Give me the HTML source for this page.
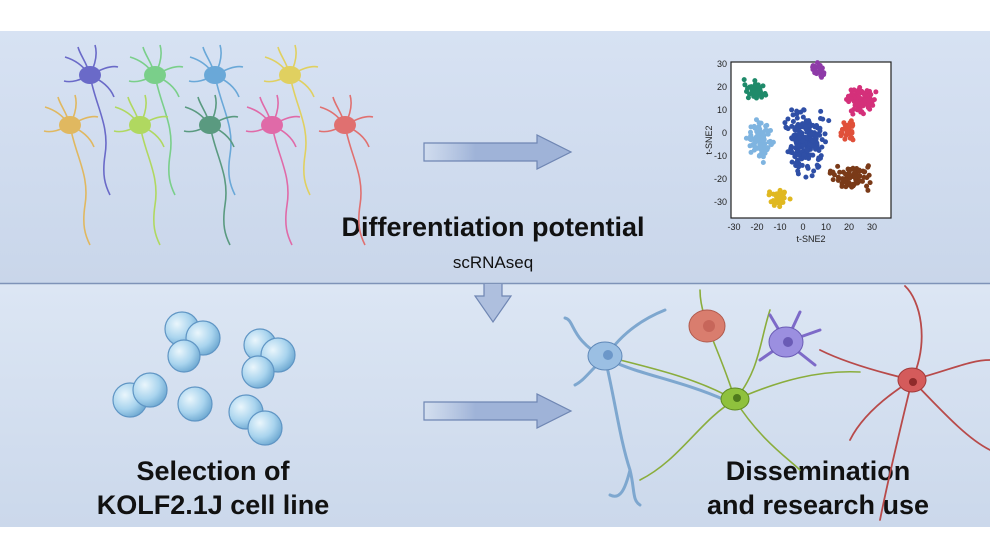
<!DOCTYPE html>
<html><head><meta charset="utf-8"><style>
html,body{margin:0;padding:0;background:#fff;}
svg{display:block;font-family:"Liberation Sans",Arial,sans-serif;}
</style></head><body>
<svg id="s" width="990" height="558" viewBox="0 0 990 558" xmlns="http://www.w3.org/2000/svg">
<defs>
<linearGradient id="bg1" x1="0" y1="0" x2="0" y2="1"><stop offset="0" stop-color="#d7e2f3"/><stop offset="1" stop-color="#c9d6ea"/></linearGradient>
<linearGradient id="bg2" x1="0" y1="0" x2="0" y2="1"><stop offset="0" stop-color="#dce6f4"/><stop offset="1" stop-color="#cbd8eb"/></linearGradient>
<linearGradient id="arr" x1="0" y1="0" x2="1" y2="0"><stop offset="0" stop-color="#a9bbdb" stop-opacity="0"/><stop offset="0.35" stop-color="#9fb3d8"/><stop offset="1" stop-color="#9fb3d8"/></linearGradient>
<radialGradient id="cell" cx="0.35" cy="0.35" r="0.7"><stop offset="0" stop-color="#eaf6fc"/><stop offset="0.6" stop-color="#a9d4ee"/><stop offset="1" stop-color="#6fa9d2"/></radialGradient>
</defs>
<rect x="0" y="31" width="990" height="252" fill="url(#bg1)"/>
<rect x="0" y="284" width="990" height="243" fill="url(#bg2)"/>
<line x1="0" y1="283.5" x2="990" y2="283.5" stroke="#7e93b8" stroke-width="1.5"/>
<path d="M424,143 H537 V135 L571,152 L537,169 V161 H424 Z" fill="url(#arr)" stroke="#6f86b3" stroke-width="1.2"/>
<path d="M424,402 H537 V394 L571,411 L537,428 V420 H424 Z" fill="url(#arr)" stroke="#6f86b3" stroke-width="1.2"/>
<path d="M484,284 V296 H475 L493,322 L511,296 H502 V284" fill="#aebfde" stroke="#6f86b3" stroke-width="1.2"/>
<text x="493" y="236" font-size="27" font-weight="bold" text-anchor="middle" fill="#111">Differentiation potential</text>
<text x="493" y="268" font-size="17" text-anchor="middle" fill="#111">scRNAseq</text>
<text x="213" y="480" font-size="27" font-weight="bold" text-anchor="middle" fill="#111">Selection of</text>
<text x="213" y="514" font-size="27" font-weight="bold" text-anchor="middle" fill="#111">KOLF2.1J cell line</text>
<text x="818" y="480" font-size="27" font-weight="bold" text-anchor="middle" fill="#111">Dissemination</text>
<text x="818" y="514" font-size="27" font-weight="bold" text-anchor="middle" fill="#111">and research use</text>
<rect x="731" y="62" width="160" height="156" fill="#fff" stroke="#222" stroke-width="1.2"/>
<g font-size="9" fill="#222" text-anchor="end">
<text x="727" y="67">30</text><text x="727" y="90">20</text><text x="727" y="113">10</text><text x="727" y="136">0</text><text x="727" y="159">-10</text><text x="727" y="182">-20</text><text x="727" y="205">-30</text>
</g>
<g font-size="9" fill="#222" text-anchor="middle">
<text x="734" y="230">-30</text><text x="757" y="230">-20</text><text x="780" y="230">-10</text><text x="803" y="230">0</text><text x="826" y="230">10</text><text x="849" y="230">20</text><text x="872" y="230">30</text>
<text x="811" y="242">t-SNE2</text>
<text transform="translate(712,140) rotate(-90)">t-SNE2</text>
</g>
<g id="dots"></g>
<g stroke="#5f95c4" stroke-width="1.2" fill="url(#cell)">
<circle cx="182" cy="329" r="17"/><circle cx="203" cy="338" r="17"/><circle cx="184" cy="356" r="16"/>
<circle cx="260" cy="345" r="16"/><circle cx="278" cy="355" r="17"/><circle cx="258" cy="372" r="16"/>
<circle cx="130" cy="400" r="17"/><circle cx="150" cy="390" r="17"/>
<circle cx="195" cy="404" r="17"/>
<circle cx="246" cy="412" r="17"/><circle cx="265" cy="428" r="17"/>
</g>
<g id="nrow"></g>
<g fill="none" stroke-linecap="round">
<path d="M605,358 C615,400 620,440 630,470 C635,490 632,500 640,505 M630,470 C625,490 620,500 610,495 M605,358 C570,340 575,320 565,318 M605,358 C590,370 585,380 575,385 M605,358 C620,335 640,320 665,310 M610,360 C640,375 680,380 725,400" stroke="#7ea7cf" stroke-width="3"/>
<path d="M735,400 C700,420 680,460 640,480 M735,400 C720,350 700,320 700,290 M735,400 C780,380 820,370 860,372 M735,400 C760,440 790,460 800,470 M735,400 C700,380 660,370 620,360 M735,400 C760,370 760,340 770,310" stroke="#8aad3c" stroke-width="1.6"/>
<path d="M912,380 C900,430 890,470 880,520 M912,380 C870,370 840,360 820,350 M912,380 C930,340 920,300 905,286 M912,380 C950,370 970,360 990,360 M912,380 C950,420 970,440 990,450 M912,380 C880,400 860,420 850,440" stroke="#b84a4a" stroke-width="1.8"/>
<path d="M786,342 L770,315 M786,342 L800,312 M786,342 L820,330 M786,342 L815,365 M786,342 L760,360" stroke="#7d6ac8" stroke-width="3"/>
<ellipse cx="605" cy="356" rx="17" ry="14" fill="#9bbfe3" stroke="#5f88b8"/>
<circle cx="608" cy="355" r="5" fill="#6c97c9"/>
<ellipse cx="735" cy="399" rx="14" ry="11" fill="#8fc13d" stroke="#5f8a22"/>
<circle cx="737" cy="398" r="4" fill="#4e7a1c"/>
<ellipse cx="786" cy="342" rx="17" ry="15" fill="#9b8fe0" stroke="#6a5bb5"/>
<circle cx="788" cy="342" r="5" fill="#6a5bb5"/>
<ellipse cx="912" cy="380" rx="14" ry="12" fill="#d45b5b" stroke="#a23a3a"/>
<circle cx="913" cy="382" r="4" fill="#8f2a2a"/>
<ellipse cx="707" cy="326" rx="18" ry="16" fill="#d97d6e" stroke="#b05a4d"/>
<circle cx="709" cy="326" r="6" fill="#c7665a"/>
</g>
</svg>
<script>
var seed=7;function r(){seed=(seed*16807)%2147483647;return seed/2147483647;}
function g(){return (r()+r()+r()-1.5)/1.5;}
var ns="http://www.w3.org/2000/svg",d=document.getElementById("dots");
function cl(cx,cy,sx,sy,n,col){for(var i=0;i<n;i++){var c=document.createElementNS(ns,"circle");c.setAttribute("cx",cx+g()*sx);c.setAttribute("cy",cy+g()*sy);c.setAttribute("r",2.5);c.setAttribute("fill",col);d.appendChild(c);}}
cl(755,90,13,12,45,"#1f8a6a");cl(818,70,10,9,30,"#8e3aa8");cl(862,100,18,18,90,"#d4307a");
cl(760,140,17,26,90,"#7fb4e0");cl(805,140,26,44,200,"#2f4fa6");cl(848,130,11,14,35,"#e0503a");
cl(852,178,28,16,80,"#7a3a18");cl(778,197,14,11,40,"#e0b820");
var row=document.getElementById("nrow");
var ns2=[[90,75,"#6a6ac8"],[155,75,"#7acf8a"],[215,75,"#6aa8d8"],[290,75,"#e0d060"],[70,125,"#e0b860"],[140,125,"#b0d860"],[210,125,"#5a9a80"],[272,125,"#e06aa8"],[345,125,"#e07070"]];
ns2.forEach(function(n){var x=n[0],y=n[1],c=n[2];var p=document.createElementNS(ns,"path");
p.setAttribute("d","M"+x+","+y+" c-8,-10 -15,-15 -25,-18 M"+x+","+y+" c5,-10 8,-20 5,-30 M"+x+","+y+" c10,-5 20,-10 28,-8 M"+x+","+y+" c-10,5 -18,8 -26,6 M"+x+","+y+" c-3,-12 -10,-20 -12,-28 M"+x+","+y+" c12,6 20,12 24,22 M"+x+","+y+" c5,30 20,50 15,80 c-3,20 0,30 5,40");
p.setAttribute("stroke",c);p.setAttribute("fill","none");p.setAttribute("stroke-width","1.6");row.appendChild(p);
var e=document.createElementNS(ns,"ellipse");e.setAttribute("cx",x);e.setAttribute("cy",y);e.setAttribute("rx",11);e.setAttribute("ry",9);e.setAttribute("fill",c);row.appendChild(e);});
</script>
</body></html>
